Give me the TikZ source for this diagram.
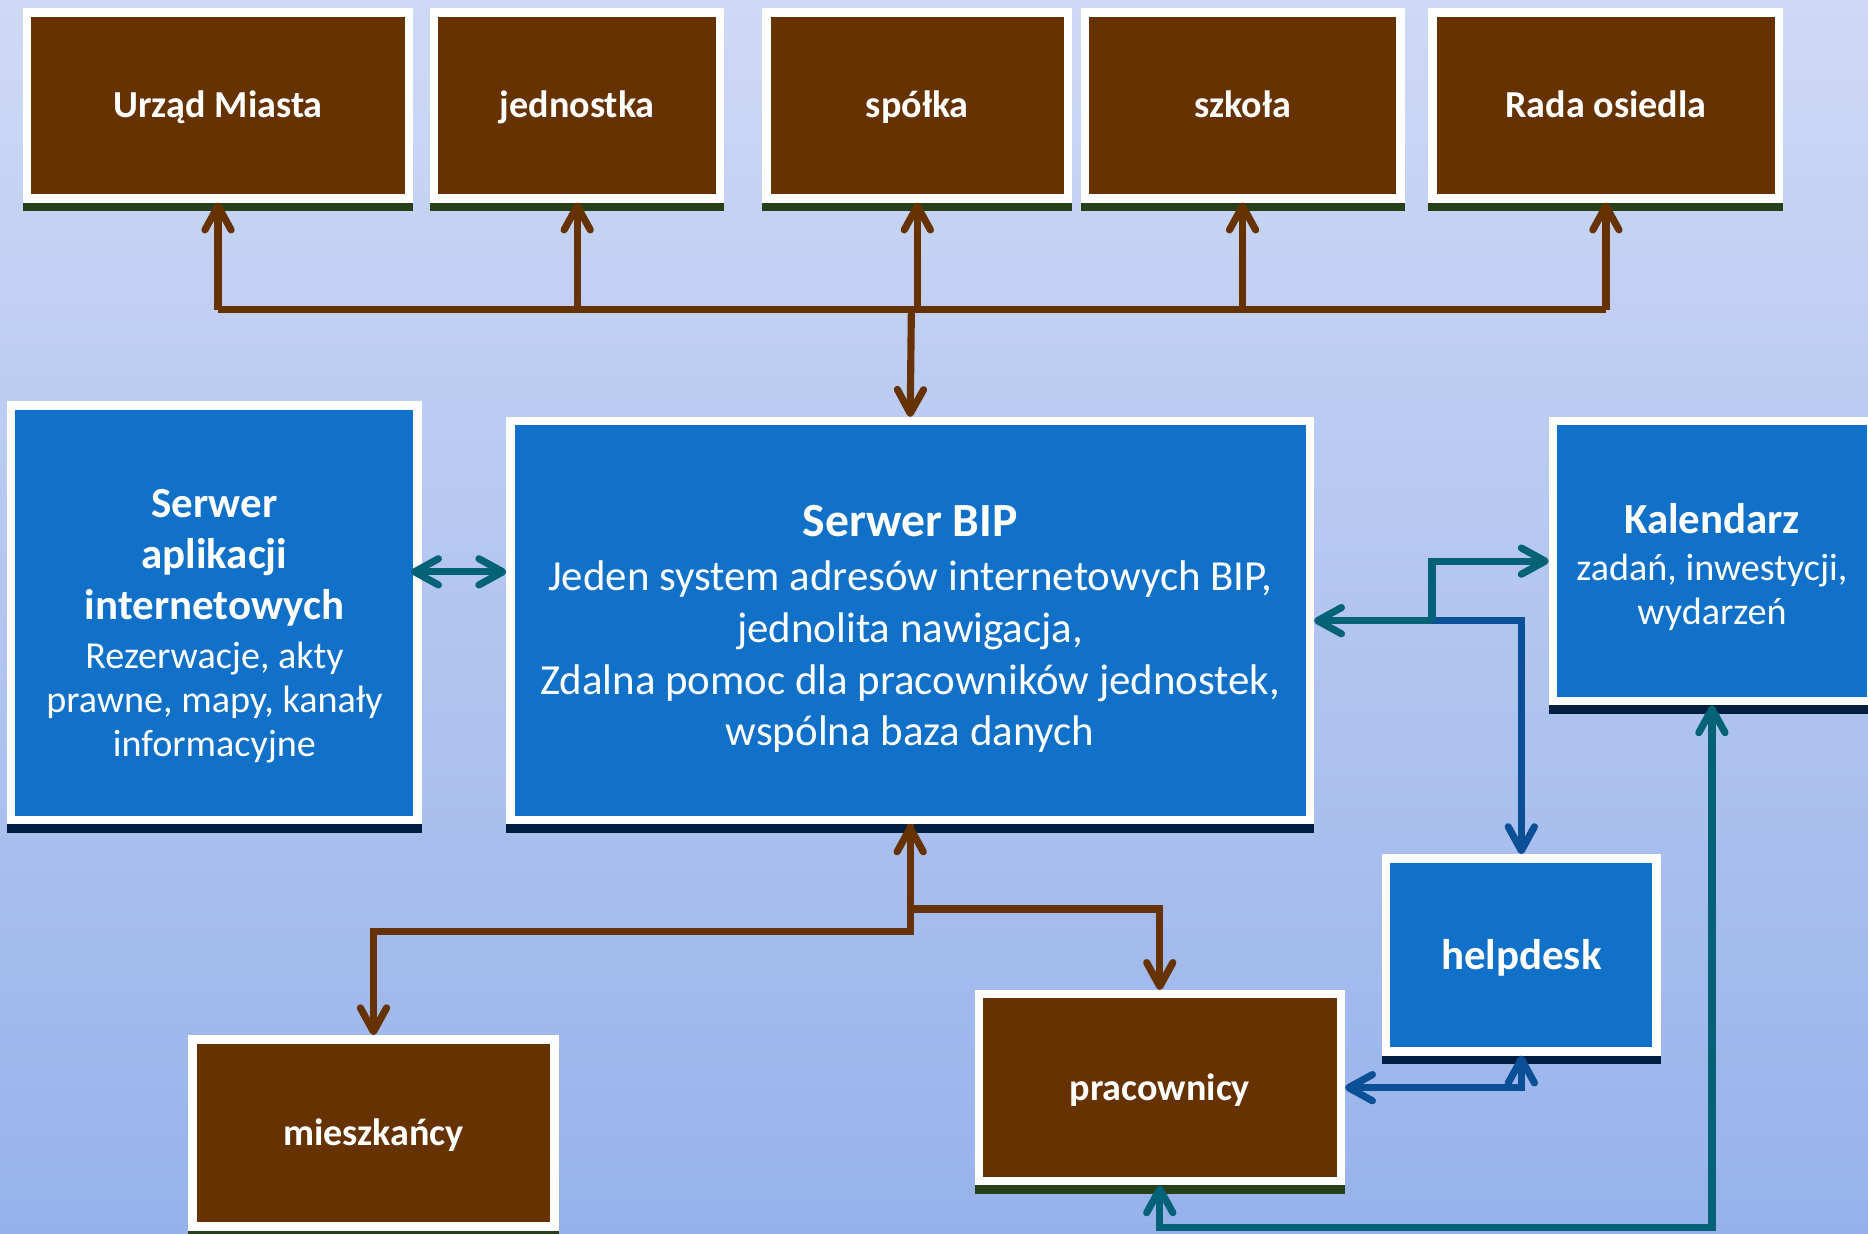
\documentclass[tikz,border=0pt]{standalone}
\usepackage{fontspec}
\setmainfont{Carlito}
\usetikzlibrary{arrows.meta,shadows}
\definecolor{tlogora}{RGB}{206,217,245}
\definecolor{tlodol}{RGB}{151,178,235}
\definecolor{braz}{RGB}{102,51,0}
\definecolor{nieb}{RGB}{17,112,199}
\definecolor{morski}{RGB}{4,98,120}
\definecolor{granat}{RGB}{11,80,150}
\definecolor{paszziel}{RGB}{38,64,26}
\definecolor{paszgran}{RGB}{0,30,64}
\begin{document}
\begin{tikzpicture}[x=1pt,y=-1pt,
    brazowy/.style={fill=braz,draw=white,line width=7pt,text=white,
      font=\fontsize{32}{38}\selectfont\bfseries,text height=21pt,text depth=0pt,
      general shadow={fill=paszziel,draw=paszziel,line width=7pt,shadow yshift=-7pt}},
    niebieski/.style={fill=nieb,draw=white,line width=7pt,text=white,align=center,
      font=\fontsize{32}{37}\selectfont,
      general shadow={fill=paszgran,draw=paszgran,line width=7pt,shadow yshift=-7pt}},
    lbraz/.style={draw=braz,line width=6pt,>={Straight Barb[length=20pt,width=22pt,round]}},
    lmor/.style={draw=morski,line width=6pt,>={Straight Barb[length=20pt,width=22pt,round]}},
    lgran/.style={draw=granat,line width=6pt,>={Straight Barb[length=20pt,width=22pt,round]}}]
    \shade[top color=tlogora,bottom color=tlodol] (0,0) rectangle (1568,1035);
    \useasboundingbox (0,0) rectangle (1568,1035);

    \node[brazowy,minimum width=321pt,minimum height=156pt] (urzad) at (183,88.5) {Urząd Miasta};
    \node[brazowy,minimum width=240pt,minimum height=156pt] (jednostka) at (484.5,88.5) {jednostka};
    \node[brazowy,minimum width=253pt,minimum height=156pt] (spolka) at (770,88.5) {spółka};
    \node[brazowy,minimum width=265pt,minimum height=156pt] (szkola) at (1043,88.5) {szkoła};
    \node[brazowy,minimum width=291pt,minimum height=156pt] (rada) at (1348,88.5) {Rada osiedla};

    \node[niebieski,minimum width=341pt,minimum height=348pt] (aplikacje) at (180,514.5)
      {\fontsize{36}{43}\selectfont\bfseries\rule{0pt}{46pt}Serwer\\[6pt]
       \fontsize{36}{43}\selectfont\bfseries aplikacji\\[6pt]
       \fontsize{36}{43}\selectfont\bfseries internetowych\\[4pt]
       Rezerwacje, akty\\ prawne, mapy, kanały\\ informacyjne};
    \node[niebieski,minimum width=671pt,minimum height=335pt,font=\fontsize{36}{43.5}\selectfont] (bip) at (764,521)
      {\fontsize{40}{43}\selectfont\bfseries\rule{0pt}{40pt}Serwer BIP\\[2pt]
       Jeden system adresów internetowych BIP,\\ jednolita nawigacja,\\
       Zdalna pomoc dla pracowników jednostek,\\ wspólna baza danych};
    \node[niebieski,minimum width=267pt,minimum height=235pt] (kalendarz) at (1437,471)
      {\fontsize{36}{43}\selectfont\bfseries\rule{0pt}{35pt}Kalendarz\\[3pt] zadań, inwestycji,\\ wydarzeń};
    \node[niebieski,minimum width=227pt,minimum height=162pt,font=\fontsize{36}{43}\selectfont\bfseries,
      text height=25pt,text depth=0pt] (helpdesk) at (1277,801.5) {helpdesk};
    \node[brazowy,minimum width=304pt,minimum height=157pt] (pracownicy) at (973.5,913) {pracownicy};
    \node[brazowy,minimum width=304pt,minimum height=157pt] (mieszkancy) at (313.5,951) {mieszkańcy};

    \coordinate (szyna) at (765,260);
    \draw[lbraz] (urzad.south |- szyna) -- (rada.south |- szyna);
    \foreach \jed in {urzad,jednostka,spolka,szkola,rada}
      \draw[lbraz,->] (\jed.south |- szyna) -- (\jed.south);
    \draw[lbraz,->] (szyna) -- (bip.north);

    \coordinate (ab) at ([yshift=41pt]bip.west);
    \draw[lmor,<->,shorten <=-9pt] (aplikacje.east |- ab) -- (ab);

    \coordinate (wezel) at ([xshift=99pt]bip.east);
    \draw[lgran,->] (wezel) -| (helpdesk.north);
    \draw[lmor,->] (wezel) -- (bip.east);
    \draw[lmor,->] (wezel) |- (kalendarz.west);
    \draw[lgran,<->] (helpdesk.south) |- (pracownicy.east);
    \draw[lmor,<->] (pracownicy.south) -- ++(0,35) -| (kalendarz.south);

    \draw[lbraz,<->] (bip.south) -- ++(0,71) -| (pracownicy.north);
    \draw[lbraz,->] (bip.south) -- ++(0,90) -| (mieszkancy.north);
\end{tikzpicture}
\end{document}
